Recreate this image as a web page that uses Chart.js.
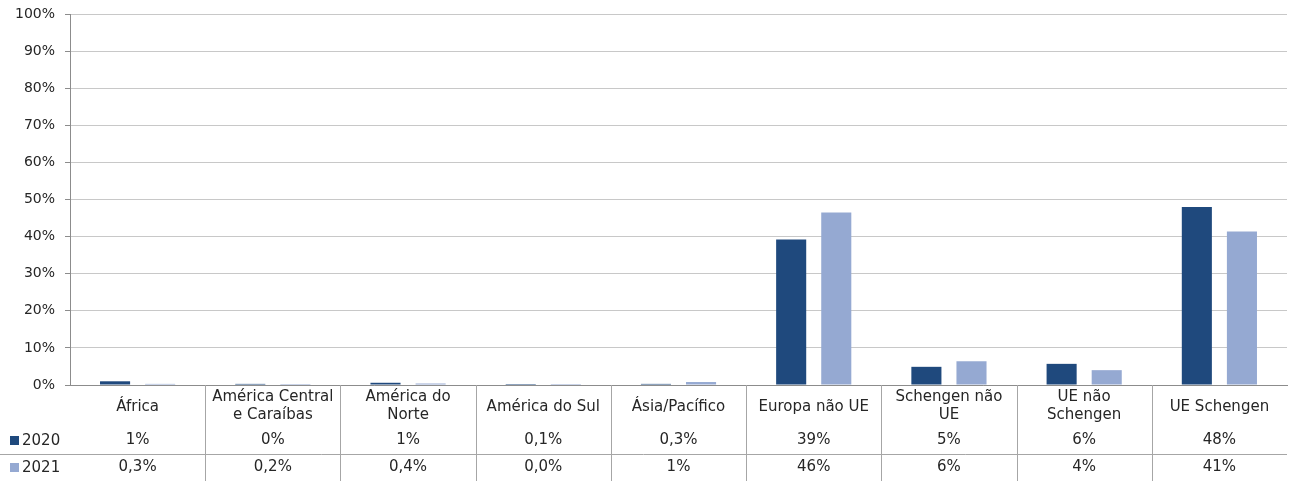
<!DOCTYPE html>
<html>
<head>
<meta charset="utf-8">
<script src="https://cdn.jsdelivr.net/npm/chart.js@4/dist/chart.umd.min.js"></script>
<style>
  html, body { margin: 0; padding: 0; background: #fff; }
  #wrap { width: 1295px; height: 483px; position: relative; }
</style>
</head>
<body>
<div id="wrap"><canvas id="chart" width="1295" height="483"></canvas></div>
<script>
// Regiões (rótulos em várias linhas como no quadro original)
const categories = [
  ["África"],
  ["América Central", "e Caraíbas"],
  ["América do", "Norte"],
  ["América do Sul"],
  ["Ásia/Pacífico"],
  ["Europa não UE"],
  ["Schengen não", "UE"],
  ["UE não", "Schengen"],
  ["UE Schengen"]
];
const seriesNames = ["2020", "2021"];
const values2020 = [1.0, 0.3, 0.6, 0.1, 0.3, 39.2, 4.9, 5.7, 48.0];
const values2021 = [0.3, 0.2, 0.4, 0.05, 0.8, 46.5, 6.4, 4.0, 41.4];
// Texto da tabela de dados
const table2020 = ["1%", "0%", "1%", "0,1%", "0,3%", "39%", "5%", "6%", "48%"];
const table2021 = ["0,3%", "0,2%", "0,4%", "0,0%", "1%", "46%", "6%", "4%", "41%"];
const yTicks = [0, 10, 20, 30, 40, 50, 60, 70, 80, 90, 100];

const colors = ["#1F497D", "#95A9D2"];
const fontFamily = "'DejaVu Sans', sans-serif";
const textColor = "#262626";

// Desenha a tabela de dados por baixo do eixo
const dataTablePlugin = {
  id: "dataTable",
  afterDraw(chart) {
    const ctx = chart.ctx;
    const x = chart.scales.x;
    const area = chart.chartArea;
    const n = categories.length;
    const step = (area.right - area.left) / n;
    const top = area.bottom;

    ctx.save();
    ctx.strokeStyle = "#A6A6A6";
    ctx.lineWidth = 1;

    // linhas verticais entre categorias
    for (let i = 1; i < n; i++) {
      const bx = Math.round(area.left + step * i) + 0.5;
      ctx.beginPath();
      ctx.moveTo(bx, top);
      ctx.lineTo(bx, top + 96);
      ctx.stroke();
    }
    // linha horizontal entre 2020 e 2021
    ctx.beginPath();
    ctx.moveTo(0, top + 69.5);
    ctx.lineTo(area.right, top + 69.5);
    ctx.stroke();

    ctx.fillStyle = textColor;
    ctx.font = "15px " + fontFamily;
    ctx.textAlign = "center";
    ctx.textBaseline = "middle";

    categories.forEach((lines, i) => {
      const cx = x.getPixelForValue(i);
      const startY = lines.length === 1 ? top + 22 : top + 12;
      lines.forEach((line, j) => {
        ctx.fillText(line, cx, startY + j * 18);
      });
      ctx.fillText(table2020[i], cx, top + 55);
      ctx.fillText(table2021[i], cx, top + 82);
    });

    // legenda na primeira coluna
    ctx.textAlign = "left";
    const rows = [top + 55, top + 82];
    rows.forEach((ry, k) => {
      ctx.fillStyle = colors[k];
      ctx.fillRect(10, ry - 4, 9, 9);
      ctx.fillStyle = textColor;
      ctx.fillText(seriesNames[k], 22, ry + 1);
    });
    ctx.restore();
  }
};

new Chart(document.getElementById("chart"), {
  type: "bar",
  data: {
    labels: categories.map(c => c.join(" ")),
    datasets: [
      {
        label: seriesNames[0],
        data: values2020,
        backgroundColor: colors[0],
        categoryPercentage: 0.667,
        barPercentage: 0.667,
        minBarLength: 1
      },
      {
        label: seriesNames[1],
        data: values2021,
        backgroundColor: colors[1],
        categoryPercentage: 0.667,
        barPercentage: 0.667,
        minBarLength: 1
      }
    ]
  },
  options: {
    responsive: false,
    animation: false,
    layout: { padding: { top: 14, right: 8, bottom: 98, left: 0 } },
    plugins: {
      legend: { display: false },
      tooltip: { enabled: false }
    },
    scales: {
      x: {
        display: true,
        ticks: { display: false },
        grid: { display: false, drawTicks: false },
        border: { display: true, color: "#8C8C8C" }
      },
      y: {
        min: 0,
        max: 100,
        afterFit(scale) {
          scale.width = 70;
          scale.paddingTop = 0;
          scale.paddingBottom = 0;
        },
        afterBuildTicks(scale) { scale.ticks = yTicks.map(v => ({ value: v })); },
        ticks: {
          color: textColor,
          font: { family: fontFamily, size: 14 },
          padding: 10,
          callback: v => v + "%"
        },
        grid: { color: "#C8C8C8", tickLength: 5, tickColor: "#8C8C8C" },
        border: { color: "#8C8C8C" }
      }
    }
  },
  plugins: [dataTablePlugin]
});
</script>
</body>
</html>
